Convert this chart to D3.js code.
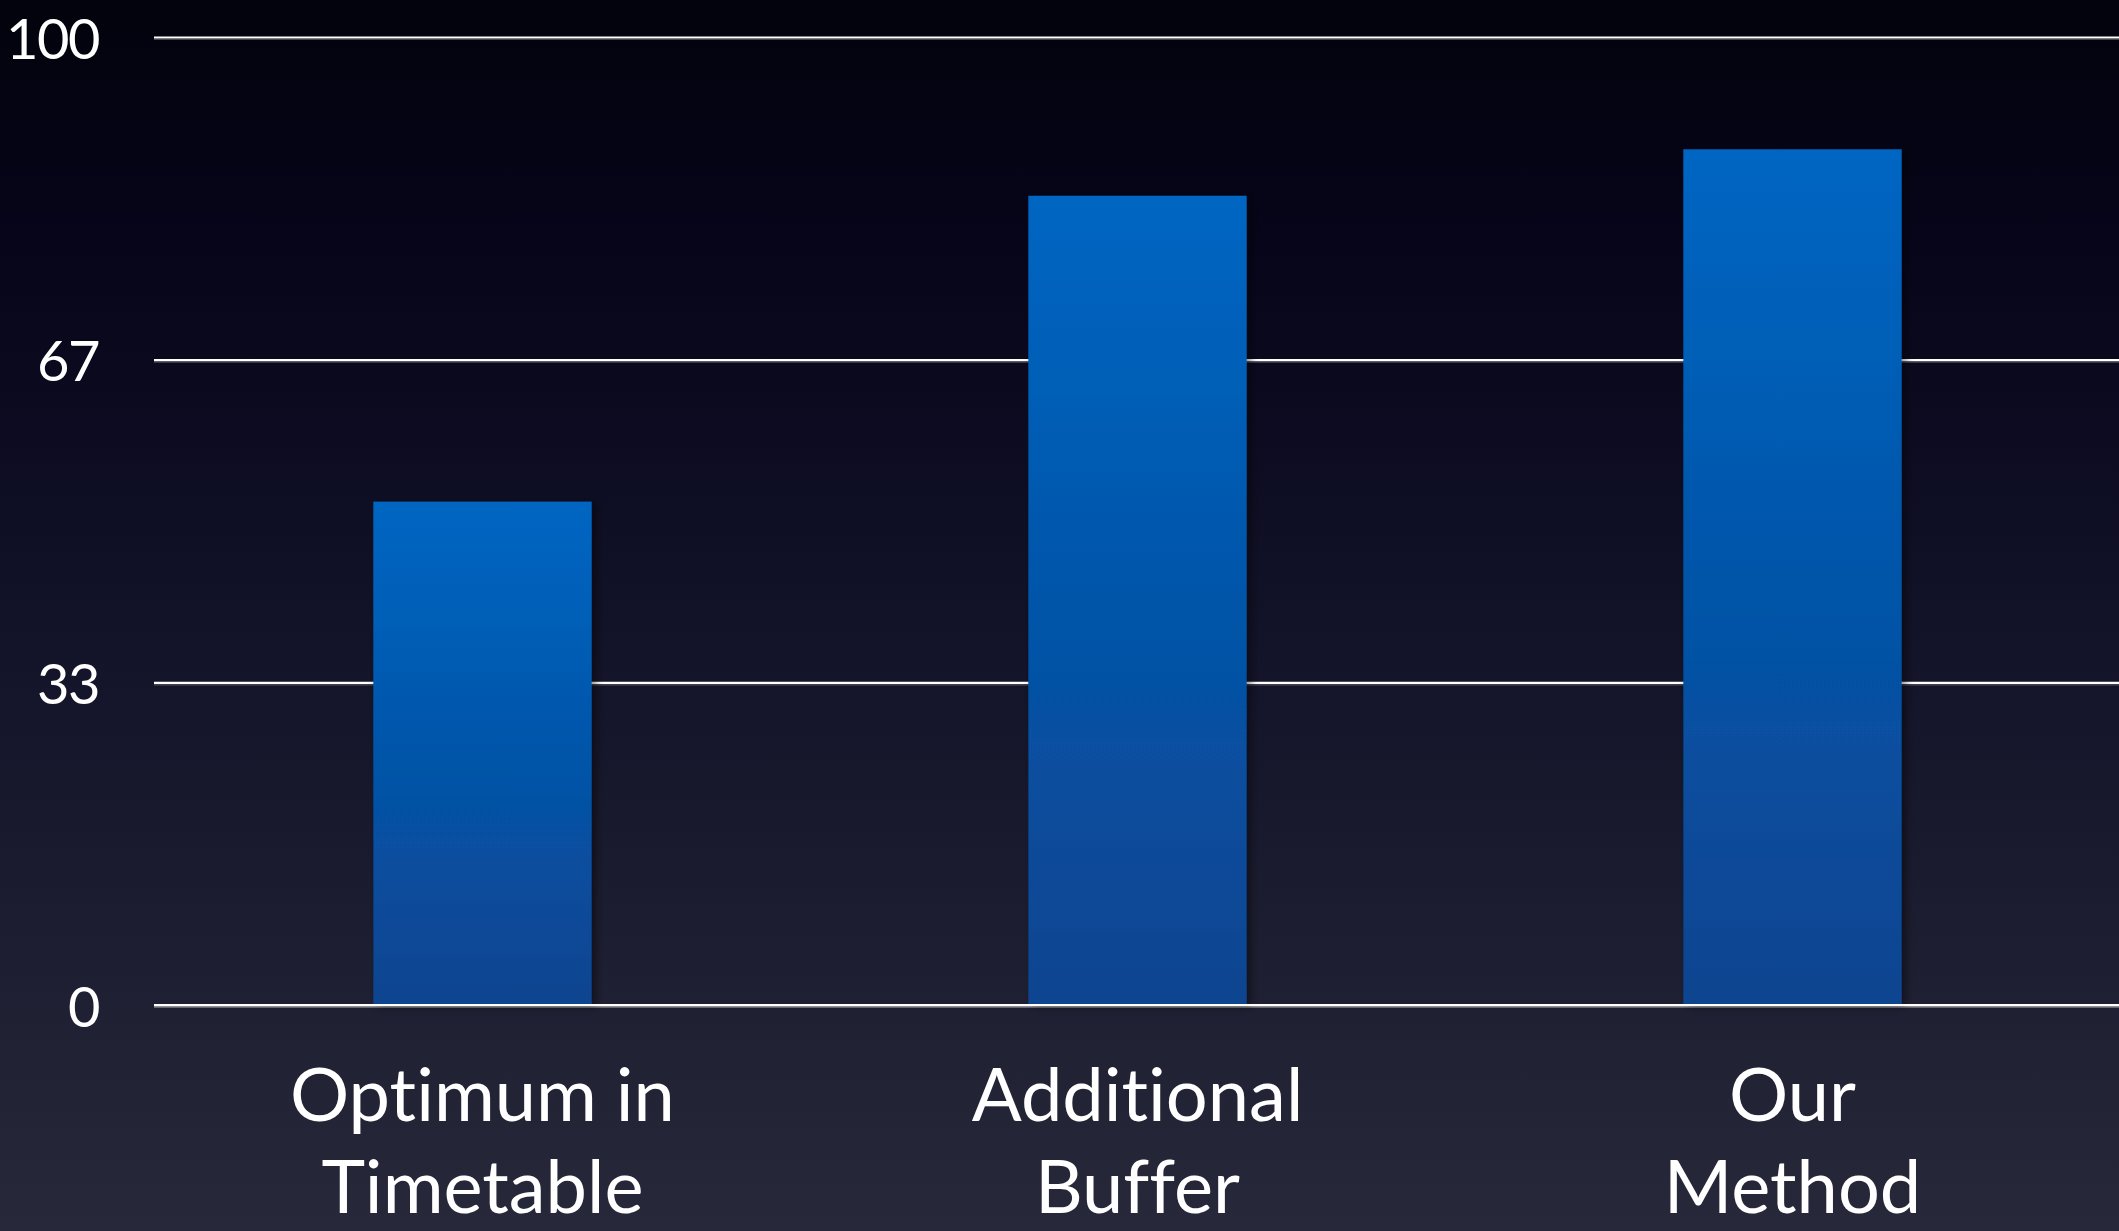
<!DOCTYPE html>
<html>
<head>
<meta charset="utf-8">
<script src="https://cdn.jsdelivr.net/npm/d3@7"></script>
<style>
  html, body { margin: 0; padding: 0; background: #05040f; }
  svg { display: block; }
  text { font-family: Lato, "Open Sans", sans-serif; fill: #ffffff; font-variant-ligatures: none; font-feature-settings: "liga" 0; }
</style>
</head>
<body>
<script>
const categories = [["Optimum in", "Timetable"], ["Additional", "Buffer"], ["Our", "Method"]];
const values = [52, 83.6, 88.4];
const tickValues = [0, 100 / 3, 200 / 3, 100];
const tickLabels = ["0", "33", "67", "100"];

(function () {
const W = 2119, H = 1231;
const mLeft = 154, mRight = W, mTop = 37, mBottom = 1005;

const svg = d3.select("body").append("svg").attr("width", W).attr("height", H);
const defs = svg.append("defs");

const bg = defs.append("linearGradient").attr("id", "bg").attr("x1", 0).attr("y1", 0).attr("x2", 0).attr("y2", 1);
bg.append("stop").attr("offset", "0%").attr("stop-color", "#03030d");
bg.append("stop").attr("offset", "20%").attr("stop-color", "#06051a");
bg.append("stop").attr("offset", "55%").attr("stop-color", "#14142a");
bg.append("stop").attr("offset", "100%").attr("stop-color", "#272839");

const bar = defs.append("linearGradient").attr("id", "bar").attr("x1", 0).attr("y1", 0).attr("x2", 0).attr("y2", 1);
bar.append("stop").attr("offset", "0%").attr("stop-color", "#0066c2");
bar.append("stop").attr("offset", "100%").attr("stop-color", "#0a4490");

const shadow = defs.append("filter").attr("id", "shadow").attr("x", "-10%").attr("y", "-10%").attr("width", "130%").attr("height", "120%");
shadow.append("feDropShadow").attr("dx", 4).attr("dy", 2).attr("stdDeviation", 4).attr("flood-color", "#000").attr("flood-opacity", 0.45);

svg.append("rect").attr("width", W).attr("height", H).attr("fill", "url(#bg)");

const x = d3.scaleBand().domain(d3.range(categories.length)).range([mLeft + 1, mRight + 1])
  .paddingInner(2 / 3).paddingOuter(1 / 3);
const y = d3.scaleLinear().domain([0, 100]).range([mBottom, mTop]);

const axis = d3.axisLeft(y).tickValues(tickValues)
  .tickFormat((d, i) => tickLabels[i])
  .tickSize(-(mRight - mLeft)).tickPadding(55);

const g = svg.append("g").attr("transform", `translate(${mLeft},0)`).call(axis);
g.select(".domain").remove();
g.selectAll(".tick line").attr("stroke", "#ffffff").attr("stroke-width", 2.2);
g.selectAll(".tick").insert("line", ":first-child")
  .attr("x1", 0).attr("x2", mRight - mLeft).attr("y1", 2).attr("y2", 2)
  .attr("stroke", "#888").attr("stroke-opacity", 0.5).attr("stroke-width", 1.2);
g.selectAll(".tick text").attr("font-size", 56).attr("fill", "#fff")
  .attr("letter-spacing", -1.5).attr("dy", "0.38em")
  .attr("font-family", "Lato, 'Open Sans', sans-serif");

svg.append("g").selectAll("rect").data(values).join("rect")
  .attr("x", (d, i) => x(i)).attr("width", x.bandwidth())
  .attr("y", d => y(d)).attr("height", d => y(0) - y(d))
  .attr("fill", "url(#bar)").attr("filter", "url(#shadow)");

svg.append("line").attr("x1", mLeft).attr("x2", mRight).attr("y1", y(0)).attr("y2", y(0))
  .attr("stroke", "#ffffff").attr("stroke-width", 2.2);
svg.append("line").attr("x1", mLeft).attr("x2", mRight).attr("y1", y(0) + 2).attr("y2", y(0) + 2)
  .attr("stroke", "#999").attr("stroke-opacity", 0.6).attr("stroke-width", 1.2);

const lab = svg.append("g").selectAll("text").data(categories).join("text")
  .attr("text-anchor", "middle").attr("font-size", 74)
  .attr("x", (d, i) => x(i) + x.bandwidth() / 2);
lab.selectAll("tspan").data(d => d).join("tspan")
  .attr("x", function () { return this.parentNode.getAttribute("x"); })
  .attr("y", (d, i) => 1121 + i * 92)
  .text(d => d);
})();
</script>
</body>
</html>
